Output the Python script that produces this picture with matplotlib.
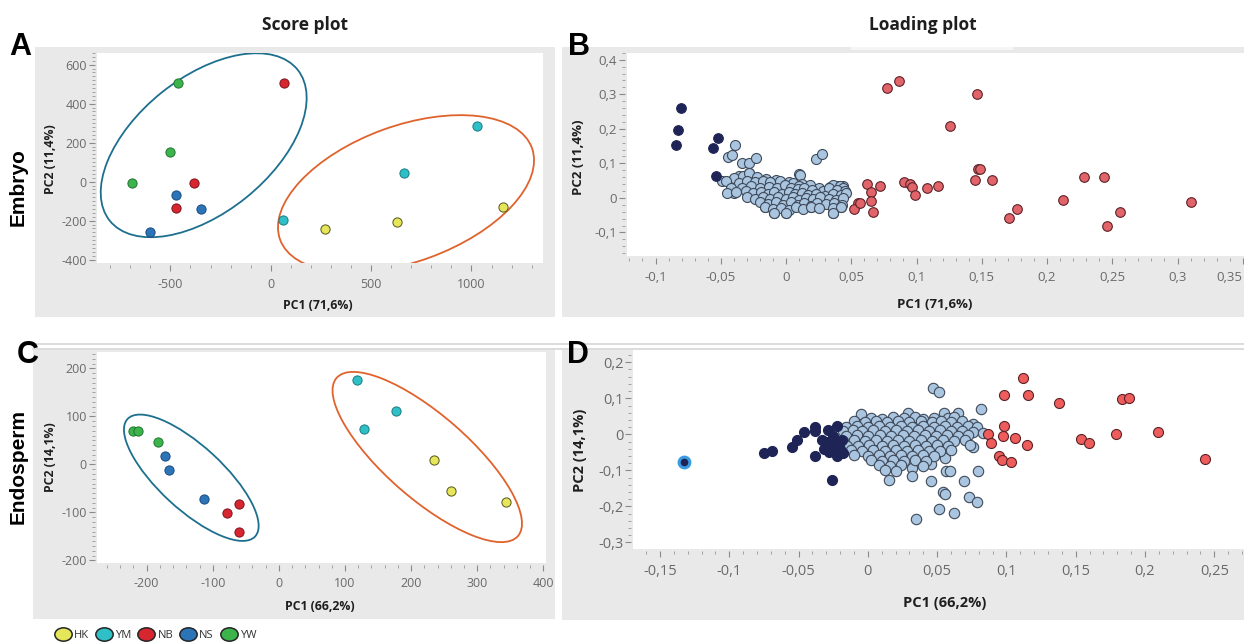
import matplotlib
matplotlib.use('Agg')
import matplotlib.pyplot as plt
from matplotlib.patches import Rectangle, Ellipse
from matplotlib.lines import Line2D
from matplotlib.path import Path
from matplotlib.transforms import Affine2D, ScaledTranslation
from matplotlib.ticker import MultipleLocator, FuncFormatter

plt.rcParams['font.family'] = ['Open Sans', 'DejaVu Sans']
plt.rcParams['axes.unicode_minus'] = False

# ---- score plot data (groups HK, YM, NB, NS, YW) ----
groups = ['HK', 'YM', 'NB', 'NS', 'YW']
group_colors = ['#e6e65a', '#2ec0c6', '#d7262f', '#2b74b8', '#3cb44b']
group_edges = ['#55551e', '#1a7c84', '#7d141c', '#1b4a80', '#1f7530']

emb_x = {'HK': [272, 629, 1159], 'YM': [1029, 666, 60], 'NB': [65, -384, -473],
         'NS': [-473, -347, -600], 'YW': [-463, -500, -690]}
emb_y = {'HK': [-244, -208, -128], 'YM': [284, 45, -198], 'NB': [505, -7, -137],
         'NS': [-68, -142, -260], 'YW': [505, 151, -7]}

end_x = {'HK': [235, 261, 344], 'YM': [118, 177, 128], 'NB': [-61, -79, -61],
         'NS': [-173, -166, -114], 'YW': [-221, -213, -183]}
end_y = {'HK': [9, -56, -79], 'YM': [175, 111, 73], 'NB': [-83, -102, -141],
         'NS': [17, -11, -73], 'YW': [69, 69, 46]}

# group ellipses: centre (data), semi-axes (px), angle (deg)
emb_rings = [(-334, 187, 120.5, 67.4, 38.8, '#1d6f8e'), (674, -62, 134, 68, 20, '#e0622c')]
end_rings = [(-132.5, -28, 86.7, 31.8, -42.6, '#1d6f8e'), (224.4, 15.2, 120.3, 41.8, -41.1, '#e0622c')]

# ---- loading plot data ----
b_navy = [(-0.0808, 0.261), (-0.0826, 0.197), (-0.0844, 0.152), (-0.052, 0.172),
          (-0.0556, 0.1435), (-0.0538, 0.0634)]
b_red = [(0.0777, 0.317), (0.0869, 0.3375), (0.146, 0.301), (0.1258, 0.208), (0.147, 0.083),
         (0.149, 0.083), (0.145, 0.051), (0.158, 0.051), (0.0622, 0.040), (0.0721, 0.0345),
         (0.065, 0.017), (0.065, -0.009), (0.067, -0.041), (0.0553, -0.014), (0.0523, -0.031),
         (0.0568, -0.016), (0.0905, 0.047), (0.095, 0.040), (0.0965, 0.032), (0.0989, 0.0075),
         (0.1078, 0.028), (0.1164, 0.0345), (0.171, -0.059), (0.177, -0.032), (0.2126, -0.006),
         (0.228, 0.0605), (0.2434, 0.0605), (0.2563, -0.042), (0.2457, -0.081), (0.310, -0.012)]
b_light = [(-0.039, 0.152), (-0.0445, 0.1175), (-0.0415, 0.123), (-0.0337, 0.100), (-0.0286, 0.102),
           (-0.023, 0.1165), (0.0233, 0.1135), (0.0277, 0.126), (0.0098, 0.069), (0.0105, 0.065),
           (-0.0281, 0.071), (-0.0361, 0.0634), (-0.0487, 0.050), (-0.0418, 0.050), (-0.0397, 0.013),
           (-0.0372, 0.0325), (-0.0093, -0.043), (-0.0004, -0.044), (0.0357, -0.043), (0.042, -0.026),
           (0.0452, 0.018), (0.0435, 0.034), (0.0395, 0.034), (0.034, 0.033), (0.0294, -0.0046),
           (0.0192, -0.0254), (-0.0164, -0.025),
           (-0.040, 0.058), (-0.033, 0.062), (-0.028, 0.072), (-0.022, 0.060), (-0.015, 0.055),
           (-0.008, 0.052), (0.002, 0.045), (0.012, 0.040),
           (-0.046, 0.048), (-0.036, 0.044), (-0.030, 0.048), (-0.024, 0.045), (-0.018, 0.050),
           (-0.012, 0.046), (-0.005, 0.050), (0.005, 0.042), (0.010, 0.035), (0.018, 0.038),
           (0.025, 0.030), (0.036, 0.036), (0.041, 0.034), (0.044, 0.030),
           (-0.042, 0.030), (-0.034, 0.028), (-0.027, 0.035), (-0.020, 0.030), (-0.013, 0.033),
           (-0.007, 0.030), (-0.001, 0.036), (0.004, 0.028), (0.009, 0.025), (0.014, 0.030),
           (0.020, 0.022), (0.028, 0.020), (0.033, 0.028), (0.039, 0.022), (0.045, 0.020),
           (-0.045, 0.015), (-0.038, 0.018), (-0.031, 0.020), (-0.025, 0.013), (-0.019, 0.018),
           (-0.014, 0.010), (-0.009, 0.016), (-0.003, 0.012), (0.002, 0.018), (0.007, 0.010),
           (0.012, 0.014), (0.017, 0.008), (0.023, 0.012), (0.030, 0.005), (0.036, 0.012),
           (0.042, 0.008), (0.046, 0.014),
           (-0.030, 0.002), (-0.024, -0.003), (-0.018, 0.004), (-0.012, -0.002), (-0.006, 0.003),
           (0.000, -0.004), (0.005, 0.002), (0.010, -0.006), (0.015, 0.000), (0.021, -0.004),
           (0.026, 0.002), (0.033, -0.002), (0.038, -0.006), (0.044, 0.000),
           (-0.020, -0.012), (-0.014, -0.018), (-0.008, -0.013), (-0.002, -0.020), (0.004, -0.012),
           (0.009, -0.020), (0.014, -0.015), (0.019, -0.022), (0.024, -0.014), (0.031, -0.018),
           (0.037, -0.014), (0.043, -0.020),
           (-0.016, -0.025), (-0.010, -0.032), (-0.004, -0.028), (0.002, -0.034), (0.008, -0.027),
           (0.013, -0.033), (0.019, -0.026), (0.025, -0.030), (0.036, -0.030), (0.042, -0.026),
           (-0.009, -0.043), (0.000, -0.044), (0.036, -0.043)]

d_glow = [(-0.1325, -0.078)]
d_navy = [(-0.0748, -0.053), (-0.069, -0.0455), (-0.0546, -0.036), (-0.0512, -0.016),
          (-0.0459, 0.0055), (-0.0382, 0.021), (-0.038, 0.009), (-0.0384, -0.061),
          (-0.0334, -0.016), (-0.029, 0.012), (-0.0225, 0.023), (-0.0257, -0.127),
          (-0.030, -0.020), (-0.027, -0.035), (-0.024, -0.045), (-0.021, -0.030),
          (-0.028, -0.050), (-0.022, -0.060), (-0.019, -0.015), (-0.025, -0.005),
          (-0.020, -0.042), (-0.032, -0.040), (-0.018, -0.052), (-0.023, -0.025)]
d_red = [(0.0864, 0.001), (0.0888, -0.023), (0.0984, 0.108), (0.0984, 0.023), (0.0975, -0.005),
         (0.1064, -0.011), (0.1146, -0.030), (0.0946, -0.060), (0.0968, -0.071), (0.103, -0.078),
         (0.1121, 0.1555), (0.1157, 0.108), (0.138, 0.088), (0.1535, -0.012), (0.1598, -0.023),
         (0.179, 0.002), (0.1834, 0.098), (0.1886, 0.102), (0.2093, 0.0055), (0.2435, -0.069)]
d_light = [(0.047, 0.128), (0.0513, 0.117), (0.0816, 0.069), (0.0345, -0.234), (0.0513, -0.208),
           (0.0621, -0.219), (0.0732, -0.173), (0.079, -0.187), (0.054, -0.161), (0.056, -0.166),
           (0.0455, -0.13), (0.0696, -0.13), (0.0797, -0.102), (0.0565, -0.102), (0.0594, -0.102),
           (0.0316, -0.093), (0.0316, -0.115), (0.0455, -0.083), (0.0155, -0.127), (0.056, -0.067),
           (0.0756, -0.036), (0.0761, 0.0286), (-0.005, 0.0555), (0.0292, 0.060), (0.0551, 0.058),
           (0.0653, 0.058),
           (0.002, 0.046), (0.010, 0.043), (0.018, 0.048), (0.026, 0.044), (0.034, 0.047),
           (0.040, 0.043), (0.048, 0.046), (0.058, 0.044), (0.062, 0.049),
           (-0.010, 0.036), (-0.002, 0.033), (0.006, 0.037), (0.014, 0.034), (0.022, 0.036),
           (0.030, 0.033), (0.038, 0.037), (0.046, 0.034), (0.053, 0.036), (0.060, 0.033), (0.068, 0.036),
           (-0.016, 0.021), (-0.008, 0.024), (0.000, 0.020), (0.008, 0.023), (0.016, 0.021),
           (0.024, 0.024), (0.032, 0.020), (0.040, 0.023), (0.048, 0.021), (0.056, 0.024),
           (0.064, 0.020), (0.072, 0.022), (0.079, 0.019),
           (-0.018, 0.009), (-0.011, 0.011), (-0.004, 0.008), (0.004, 0.012), (0.012, 0.009),
           (0.020, 0.011), (0.028, 0.008), (0.036, 0.012), (0.044, 0.009), (0.052, 0.011),
           (0.060, 0.008), (0.068, 0.010), (0.076, 0.007), (0.083, 0.004),
           (-0.016, -0.004), (-0.008, -0.002), (0.000, -0.005), (0.009, -0.002), (0.017, -0.004),
           (0.025, -0.001), (0.033, -0.005), (0.041, -0.002), (0.049, -0.004), (0.057, -0.001),
           (0.065, -0.005), (0.072, -0.002),
           (-0.018, -0.018), (-0.010, -0.016), (-0.002, -0.019), (0.006, -0.015), (0.014, -0.018),
           (0.022, -0.016), (0.030, -0.019), (0.038, -0.016), (0.046, -0.018), (0.054, -0.015),
           (0.062, -0.018), (0.070, -0.016),
           (-0.015, -0.031), (-0.007, -0.033), (0.001, -0.030), (0.010, -0.032), (0.018, -0.029),
           (0.026, -0.033), (0.034, -0.030), (0.042, -0.032), (0.050, -0.029), (0.058, -0.032),
           (0.074, -0.030),
           (-0.012, -0.044), (-0.004, -0.046), (0.004, -0.043), (0.012, -0.047), (0.020, -0.044),
           (0.028, -0.046), (0.036, -0.043), (0.044, -0.047), (0.052, -0.045), (0.060, -0.044),
           (-0.010, -0.058), (0.000, -0.060), (0.008, -0.057), (0.016, -0.061), (0.024, -0.058),
           (0.032, -0.060), (0.040, -0.057), (0.048, -0.059),
           (0.002, -0.072), (0.010, -0.075), (0.018, -0.071), (0.026, -0.074), (0.034, -0.072),
           (0.042, -0.074),
           (0.008, -0.086), (0.016, -0.089), (0.024, -0.086), (0.040, -0.088),
           (0.012, -0.100), (0.020, -0.103)]

# ---- layout helpers (pixel positions on the 1244 x 644 canvas) ----
W, H = 1244, 644


def fbox(x0, y0, x1, y1):
    return [x0 / W, 1 - y1 / H, (x1 - x0) / W, (y1 - y0) / H]


def fpt(x, y):
    return x / W, 1 - y / H


def comma(v, pos):
    s = f"{round(v, 3):g}"
    if s == '-0':
        s = '0'
    return s.replace('.', ',')


fig = plt.figure(figsize=(W / 100, H / 100), dpi=100)
fig.patch.set_facecolor('white')


def panel(x0, y0, x1, y1, color='#e9e9e9'):
    fig.add_artist(Rectangle(fpt(x0, y1), (x1 - x0) / W, (y1 - y0) / H, transform=fig.transFigure,
                             facecolor=color, edgecolor='none', zorder=-5))


def style(ax, xmaj, xmin, ymaj, ymin, lsize, fmt=None):
    ax.set_facecolor('white')
    for s in ax.spines.values():
        s.set_visible(False)
    ax.spines['left'].set_position(('outward', 1.5))
    ax.spines['bottom'].set_position(('outward', 1.5))
    ax.xaxis.set_major_locator(MultipleLocator(xmaj))
    ax.xaxis.set_minor_locator(MultipleLocator(xmin))
    ax.yaxis.set_major_locator(MultipleLocator(ymaj))
    ax.yaxis.set_minor_locator(MultipleLocator(ymin))
    if fmt:
        ax.xaxis.set_major_formatter(FuncFormatter(fmt))
        ax.yaxis.set_major_formatter(FuncFormatter(fmt))
    ax.tick_params(which='major', length=4, width=0.8, color='#8a8a8a', labelcolor='#6a6a6a',
                   labelsize=lsize)
    ax.tick_params(which='minor', length=2.2, width=0.7, color='#a0a0a0')
    ax.tick_params(axis='x', pad=5)
    ax.tick_params(axis='y', pad=1.5)


def ring(ax, cx, cy, a, b, ang, color):
    tr = fig.dpi_scale_trans + ScaledTranslation(cx, cy, ax.transData)
    ax.add_patch(Ellipse((0, 0), 2 * a / 100, 2 * b / 100, angle=ang, fill=False,
                         edgecolor=color, lw=1.3, transform=tr))


def dots(ax, pts, fc, ec, s, lw=0.8, z=3):
    ax.scatter([p[0] for p in pts], [p[1] for p in pts], s=s, c=fc, edgecolors=ec,
               linewidths=lw, zorder=z)


# grey panels and separators
panel(35, 46.7, 555, 316.7)
panel(561.7, 46.7, 1244, 316.7)
panel(851, 46.7, 1013, 50, color='#f5f5f5')   # lighter notch under the "Loading plot" title
panel(33, 350, 555, 619.3)
panel(561.7, 350, 1244, 620)
for yy in (343.5, 349):
    fig.add_artist(Line2D([33 / W, 1], [1 - yy / H] * 2, transform=fig.transFigure,
                          color='#d6d6d6', lw=1.2, zorder=-4))

# ---- A: score plot embryo ----
axA = fig.add_axes(fbox(96.7, 52.7, 542.9, 263.3))
axA.set_xlim(-867, 1356)
axA.set_ylim(-418.5, 661.5)
style(axA, 500, 100, 200, 20, 9)
for g, c, e in zip(groups, group_colors, group_edges):
    axA.scatter(emb_x[g], emb_y[g], s=44, c=c, edgecolors=e, linewidths=0.7, zorder=3)
for cx, cy, a, b, ang, col in emb_rings:
    ring(axA, cx, cy, a, b, ang, col)

# ---- C: score plot endosperm ----
axC = fig.add_axes(fbox(96.7, 351.7, 546, 562.7))
axC.set_xlim(-275.6, 404)
axC.set_ylim(-205, 234.6)
style(axC, 100, 20, 100, 10, 9)
for g, c, e in zip(groups, group_colors, group_edges):
    axC.scatter(end_x[g], end_y[g], s=44, c=c, edgecolors=e, linewidths=0.7, zorder=3)
for cx, cy, a, b, ang, col in end_rings:
    ring(axC, cx, cy, a, b, ang, col)

# ---- B: loading plot embryo ----
axB = fig.add_axes(fbox(626.7, 52.7, 1260, 256))
axB.set_xlim(-0.1221, 0.3632)
axB.set_ylim(-0.1682, 0.4204)
style(axB, 0.05, 0.01, 0.1, 0.02, 9.5, comma)
dots(axB, b_light, '#a9c5df', '#3f4a5a', 52)
dots(axB, b_navy, '#1e2456', '#1e2456', 48, z=4)
dots(axB, b_red, '#e06469', '#5c2327', 48, z=4)

# ---- D: loading plot endosperm ----
axD = fig.add_axes(fbox(633.3, 350, 1260, 549.3))
axD.set_xlim(-0.1693, 0.283)
axD.set_ylim(-0.319, 0.234)
style(axD, 0.05, 0.01, 0.1, 0.02, 10.5, comma)
dots(axD, d_light, '#a9c5df', '#3f4a5a', 56)
dots(axD, d_navy, '#1e2456', '#1e2456', 52, z=4)
dots(axD, d_red, '#ee5c5c', '#5c2327', 52, z=4)
dots(axD, d_glow, '#1e2456', '#3a9be0', 60, lw=2.2, z=5)

# ---- texts ----
lab = dict(fontweight='bold', color='#1e1e1e', ha='center', va='center')
fig.text(*fpt(305, 25), 'Score plot', fontsize=12.5, **lab)
fig.text(*fpt(923, 25), 'Loading plot', fontsize=12.5, **lab)
fig.text(*fpt(318, 306), 'PC1 (71,6%)', fontsize=8.8, **lab)
fig.text(*fpt(50, 159), 'PC2 (11,4%)', fontsize=8.8, rotation=90, **lab)
fig.text(*fpt(935, 305), 'PC1 (71,6%)', fontsize=9.5, **lab)
fig.text(*fpt(578, 157), 'PC2 (11,4%)', fontsize=9.5, rotation=90, **lab)
fig.text(*fpt(320, 606), 'PC1 (66,2%)', fontsize=8.8, **lab)
fig.text(*fpt(50, 457), 'PC2 (14,1%)', fontsize=8.8, rotation=90, **lab)
fig.text(*fpt(945, 603), 'PC1 (66,2%)', fontsize=10.5, **lab)
fig.text(*fpt(580, 450), 'PC2 (14,1%)', fontsize=10.5, rotation=90, **lab)

big = dict(fontweight='bold', color='black', family=['Liberation Sans', 'DejaVu Sans'])
for letter, x, y in [('A', 9, 55), ('B', 568, 55), ('C', 17, 363), ('D', 567, 363)]:
    fig.text(*fpt(x, y), letter, fontsize=22, ha='left', va='baseline', **big)
fig.text(*fpt(18, 187), 'Embryo', fontsize=15, rotation=90, ha='center', va='center', **big)
fig.text(*fpt(18, 466), 'Endosperm', fontsize=15, rotation=90, ha='center', va='center', **big)

# ---- legend ----
oval = Path.unit_circle().transformed(Affine2D().scale(1.3, 1.0))
handles = [Line2D([], [], ls='none', marker=oval, ms=12.5, mfc=c, mec='#262626', mew=1.1)
           for c in group_colors]
fig.legend(handles, groups, loc='center left', bbox_to_anchor=fpt(56, 635), ncol=5,
           frameon=False, fontsize=8, handlelength=1.2, handletextpad=0.4, columnspacing=0.75,
           borderpad=0, borderaxespad=0, labelcolor='#333333')

# the last tick label of B sits at the right edge of the canvas, right-aligned as in JMP
fig.canvas.draw()
for t in axB.get_xticklabels():
    if t.get_text() == '0,35':
        t.set_horizontalalignment('right')
        t.set_x(0.3505)

fig.savefig('out.png', dpi=100)
